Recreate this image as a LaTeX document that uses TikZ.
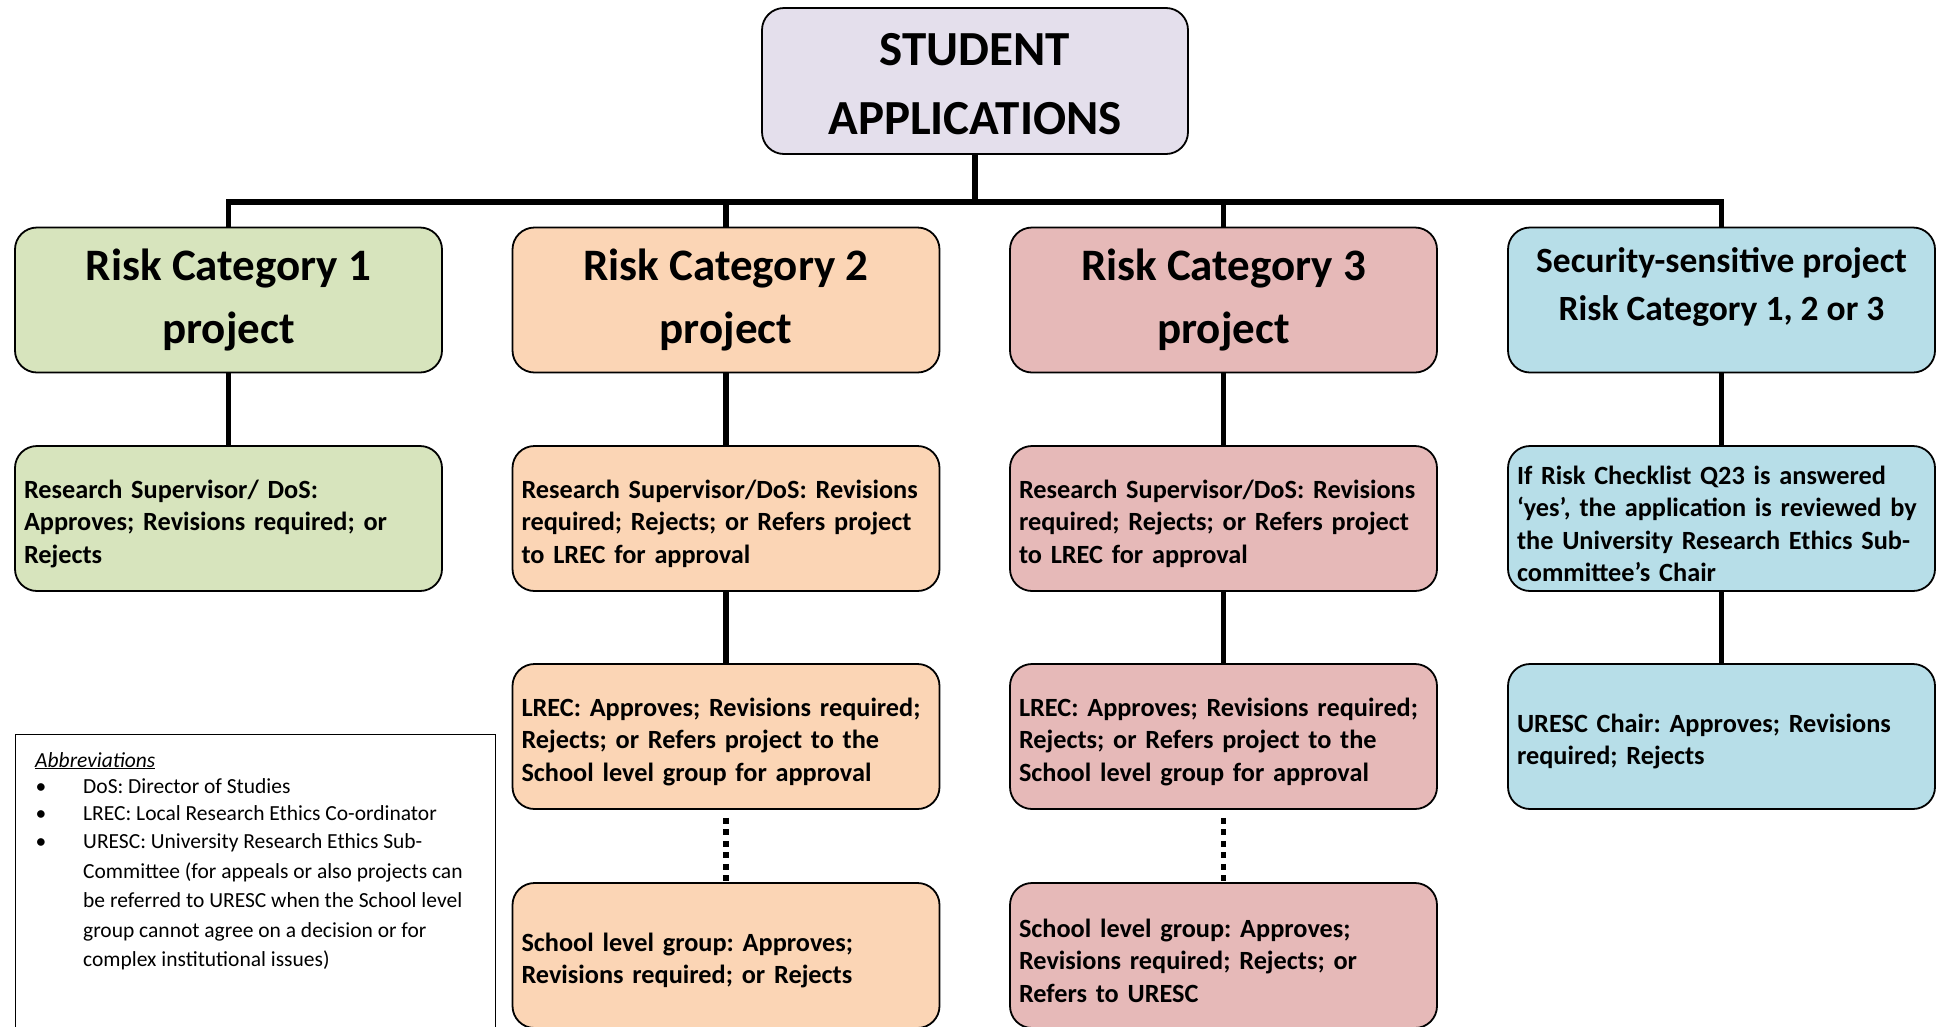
\documentclass[tikz,border=0pt]{standalone}
\usepackage{fontspec}
\setmainfont{Carlito}
\frenchspacing
\definecolor{cTop}{HTML}{E4DFEC}
\definecolor{cOne}{HTML}{D7E4BD}
\definecolor{cTwo}{HTML}{FBD5B5}
\definecolor{cThree}{HTML}{E6B9B8}
\definecolor{cSec}{HTML}{B7DEE8}
\begin{document}
\begin{tikzpicture}[x=1pt,y=-1pt,
 box/.style={draw=black, line width=1.8pt, rounded corners=22pt, minimum width=427pt, minimum height=145pt, inner sep=0pt},
 head/.style={box, align=center, font=\fontsize{45}{63}\selectfont\bfseries},
 txt/.style={box, text width=409pt, inner xsep=9pt, inner ysep=0pt, align=left,
   font=\fontsize{26.3}{32.3}\selectfont\bfseries, execute at begin node={\rule{0pt}{29pt}}},
 sectitle/.style={anchor=base, inner sep=0pt, font=\fontsize{35.5}{48}\selectfont\bfseries},
 conn/.style={line width=5.5pt},
 dotconn/.style={line width=5.5pt, dash pattern=on 6pt off 5.5pt},
 small/.style={anchor=base west, inner sep=0pt, font=\fontsize{21.5}{24}\selectfont},
 bul/.style={anchor=base, inner sep=0pt, font=\fontsize{21.5}{24}\selectfont}
]
\useasboundingbox (0,0) rectangle (1937,1026);
\clip (0,0) rectangle (1937,1026);

% top
\node[box, fill=cTop, minimum width=426pt, minimum height=146pt, align=center,
      font=\fontsize{49}{69}\selectfont\bfseries] (top) at (975,81) {\rule{0pt}{38pt}STUDENT\\APPLICATIONS};

% row 1
\node[head, fill=cOne]   (c1) at (228.5,300) {Risk Category 1\\project};
\node[head, fill=cTwo]   (c2) at (726,300)   {Risk Category 2\\project};
\node[head, fill=cThree] (c3) at (1223.5,300) {Risk Category 3\\project};
\node[box, fill=cSec]    (c4) at (1721.5,300) {};
\node[sectitle] (c4a) at (1721.5,272) {Security-sensitive project};
\node[sectitle] (c4b) at (1721.5,320) {Risk Category 1, 2 or 3};

% row 2
\node[txt, fill=cOne]   (r1a) at (228.5,518.5) {Research Supervisor/ DoS:\\Approves; Revisions required; or\\Rejects};
\node[txt, fill=cTwo]   (r2a) at (726,518.5) {Research Supervisor/DoS: Revisions\\required; Rejects; or Refers project\\to LREC for approval};
\node[txt, fill=cThree] (r3a) at (1223.5,518.5) {Research Supervisor/DoS: Revisions\\required; Rejects; or Refers project\\to LREC for approval};
\node[txt, fill=cSec]   (r4a) at (1721.5,518.5) {If Risk Checklist Q23 is answered\\‘yes’, the application is reviewed by\\the University Research Ethics Sub-\\committee’s Chair};

% row 3
\node[txt, fill=cTwo]   (r2b) at (726,736.5) {LREC: Approves; Revisions required;\\Rejects; or Refers project to the\\School level group for approval};
\node[txt, fill=cThree] (r3b) at (1223.5,736.5) {LREC: Approves; Revisions required;\\Rejects; or Refers project to the\\School level group for approval};
\node[txt, fill=cSec]   (r4b) at (1721.5,736.5) {URESC Chair: Approves; Revisions\\required; Rejects};

% row 4
\node[txt, fill=cTwo]   (r2c) at (726,955.5) {School level group: Approves;\\Revisions required; or Rejects};
\node[txt, fill=cThree] (r3c) at (1223.5,955.5) {School level group: Approves;\\Revisions required; Rejects; or\\Refers to URESC};

% connectors
\coordinate (bar) at (975,202);
\draw[conn] (top.south) -- (bar);
\draw[conn, line join=miter] (c1.north) -- (c1.north |- bar) -- (c4.north |- bar) -- (c4.north);
\draw[conn] (c2.north |- bar) -- (c2.north);
\draw[conn] (c3.north |- bar) -- (c3.north);
\draw[conn] (c1.south) -- (r1a.north);
\draw[conn] (c2.south) -- (r2a.north);
\draw[conn] (c3.south) -- (r3a.north);
\draw[conn] (c4.south) -- (r4a.north);
\draw[conn] (r2a.south) -- (r2b.north);
\draw[conn] (r3a.south) -- (r3b.north);
\draw[conn] (r4a.south) -- (r4b.north);
\draw[dotconn] ([yshift=-8pt]r2b.south) -- (r2c.north);
\draw[dotconn] ([yshift=-8pt]r3b.south) -- (r3c.north);

% abbreviations
\node[draw=black, line width=1.3pt, anchor=north west, minimum width=480pt, minimum height=320pt, inner sep=0pt] (abbr) at (15,734) {};
\node[small] (ab0) at (35,767) {\underline{\textit{Abbreviations}}};
\node[bul] (b1) at (41,793) {•};
\node[small] (ab1) at (83,793) {DoS: Director of Studies};
\node[bul] (b2) at (41,820) {•};
\node[small] (ab2) at (83,820) {LREC: Local Research Ethics Co-ordinator};
\node[bul] (b3) at (41,848) {•};
\node[small] (ab3) at (83,848) {URESC: University Research Ethics Sub-};
\node[small] (ab4) at (83,878) {Committee (for appeals or also projects can};
\node[small] (ab5) at (83,907) {be referred to URESC when the School level};
\node[small] (ab6) at (83,937) {group cannot agree on a decision or for};
\node[small] (ab7) at (83,966) {complex institutional issues)};
\end{tikzpicture}
\end{document}
